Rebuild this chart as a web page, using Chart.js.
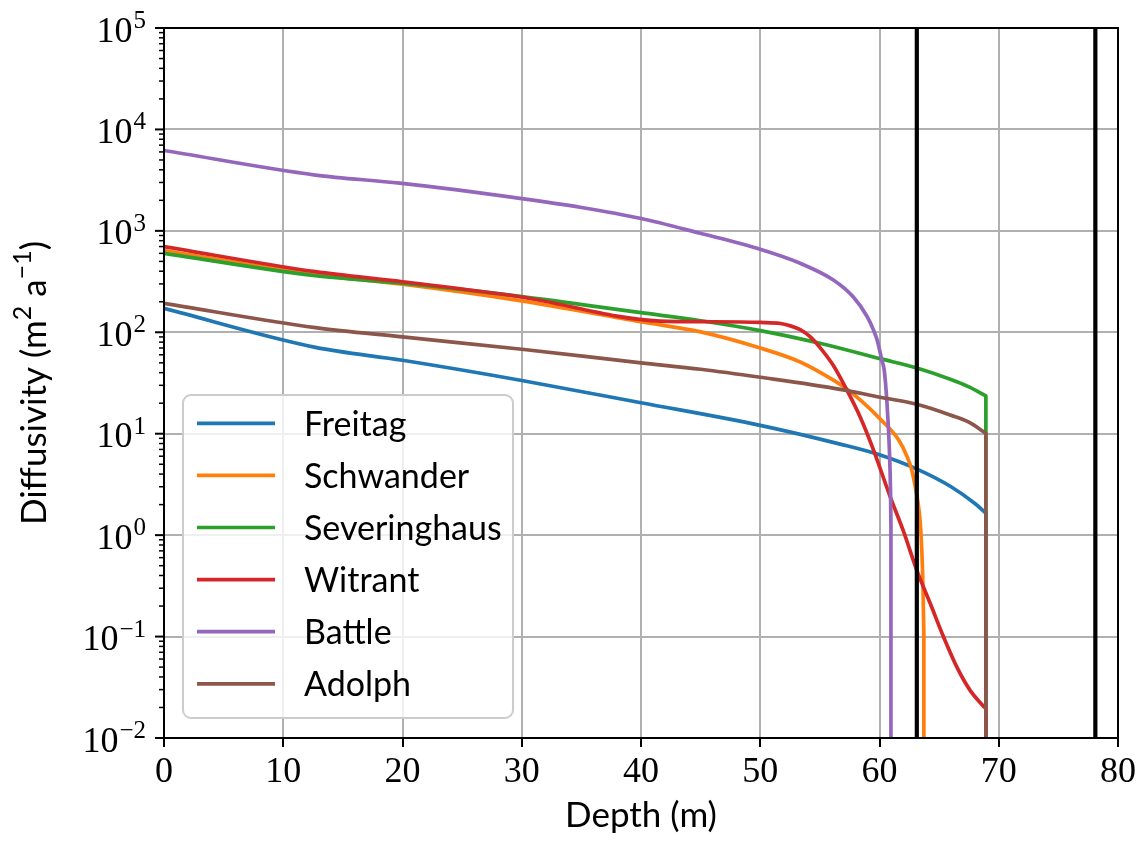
<!DOCTYPE html>
<html>
<head>
<meta charset="utf-8">
<script src="https://cdn.jsdelivr.net/npm/chart.js@4.4.1/dist/chart.umd.min.js"></script>
<style>
  html, body { margin: 0; padding: 0; background: #fff; }
  #chart { display: block; }
</style>
</head>
<body>
<canvas id="chart" width="1142" height="842"></canvas>
<script>
// firn diffusivity profiles, depth (m) vs diffusivity (m2/a)
const freitagDepth = [0, 12.7, 20, 30, 40, 50, 56.7, 60, 63.1, 66, 68, 68.92];
const freitagDiff = [172, 71, 53, 33.5, 20.2, 12.1, 7.9, 6.2, 4.5, 3.0, 2.05, 1.65];

const schwanderDepth = [0, 12.7, 20, 29.85, 40, 45, 50, 53.35, 56.1, 57, 58.5, 60.05, 61.6, 62.3, 62.7, 63.0, 63.2, 63.4, 63.55, 63.65, 63.72];
const schwanderDiff = [640, 370, 298, 205, 127, 101, 70, 51, 34, 29, 21, 14, 8.7, 6.0, 4.4, 3.0, 2.2, 1.4, 0.7, 0.3, 0.1];

const severinghausDepth = [0, 12.7, 20, 29.85, 40, 45, 50, 55, 60.05, 63.13, 65.93, 67.5, 68.92];
const severinghausDiff = [600, 361, 305, 226, 156, 130, 104, 78, 55, 44.5, 34.5, 29, 23.6];

const witrantDepth = [0, 12.7, 20, 29.85, 41.6, 46, 50, 51.7, 52.6, 53.35, 54.2, 55.0, 56.13, 57.26, 58.37, 59.5, 60.89, 62.0, 63.13, 64.25, 65.36, 66.49, 67.6, 68.72, 68.92];
const witrantDiff = [700, 396, 315, 224, 129, 127, 125, 122, 115, 106, 90, 71, 47, 27, 14.7, 6.9, 2.4, 1.1, 0.45, 0.213, 0.1, 0.05, 0.0295, 0.0206, 0.0195];

const battleDepth = [0, 12.7, 19.78, 29.85, 35, 39.92, 44.96, 49.99, 53.35, 56.13, 57.79, 58.96, 59.5, 59.8, 60.2, 60.4, 60.61, 60.83, 60.93, 60.96];
const battleDiff = [6200, 3550, 2950, 2090, 1700, 1330, 946, 658, 479, 328, 224, 143, 105, 84, 53, 42, 21.5, 6.9, 2.5, 1.2];

const adolphDepth = [0, 12.7, 20, 30, 40, 45, 50, 56.7, 60.05, 63.13, 65.93, 67.5, 68.92];
const adolphDiff = [193, 111, 90, 68, 50, 43.2, 36, 27.4, 22.9, 19.5, 15.3, 13.0, 10.1];

// close-off / bottom depths marked with black lines
const markerDepths = [63.13, 78.1];

const seriesNames = ['Freitag', 'Schwander', 'Severinghaus', 'Witrant', 'Battle', 'Adolph'];
const seriesDepths = [freitagDepth, schwanderDepth, severinghausDepth, witrantDepth, battleDepth, adolphDepth];
const seriesValues = [freitagDiff, schwanderDiff, severinghausDiff, witrantDiff, battleDiff, adolphDiff];

const xTicks = [0, 10, 20, 30, 40, 50, 60, 70, 80];
const yExponents = [-2, -1, 0, 1, 2, 3, 4, 5];

const colors = ['#1f77b4', '#ff7f0e', '#2ca02c', '#d62728', '#9467bd', '#8c564b'];
const SERIF = '"Liberation Serif", "DejaVu Serif", serif';
const SANS = 'Lato, "Open Sans", sans-serif';
const BELOW_AXIS = 1e-5;

const datasets = [];
seriesNames.forEach((name, i) => {
    const depth = seriesDepths[i];
    const vals = seriesValues[i];
    const n = depth.length - 1;
    datasets.push({
        label: name,
        data: depth.map((d, j) => ({ x: d, y: vals[j] })),
        borderColor: colors[i],
        borderWidth: 3.7,
        cubicInterpolationMode: 'monotone',
        order: seriesNames.length - i
    });
    // profile drops to zero at its last depth
    datasets.push({
        label: '',
        data: [{ x: depth[n], y: vals[n] }, { x: depth[n], y: BELOW_AXIS }],
        borderColor: colors[i],
        borderWidth: 3.7,
        order: seriesNames.length - i
    });
});

markerDepths.forEach(d => {
    datasets.push({
        label: '',
        data: [{ x: d, y: BELOW_AXIS }, { x: d, y: 1e6 }],
        borderColor: '#000',
        borderWidth: 4.2,
        order: 0
    });
});

// superscripted powers of ten, spines, log minor ticks and legend
const decorations = {
    id: 'decorations',
    afterDatasetsDraw(chart) {
        const ctx = chart.ctx;
        const area = chart.chartArea;
        const y = chart.scales.y;
        ctx.save();

        // spines
        ctx.strokeStyle = '#000';
        ctx.lineWidth = 2;
        ctx.strokeRect(area.left, area.top, area.right - area.left, area.bottom - area.top);

        // y ticks, major and minor
        yExponents.forEach(e => {
            const py = y.getPixelForValue(Math.pow(10, e));
            ctx.lineWidth = 2;
            ctx.beginPath();
            ctx.moveTo(area.left - 9, py);
            ctx.lineTo(area.left, py);
            ctx.stroke();
            if (e < 5) {
                ctx.lineWidth = 1.5;
                for (let k = 2; k < 10; k++) {
                    const pm = y.getPixelForValue(k * Math.pow(10, e));
                    ctx.beginPath();
                    ctx.moveTo(area.left - 5, pm);
                    ctx.lineTo(area.left, pm);
                    ctx.stroke();
                }
            }

            // tick label 10^e
            const exp = e < 0 ? '\u2212' + Math.abs(e) : String(e);
            ctx.fillStyle = '#000';
            ctx.textBaseline = 'alphabetic';
            ctx.textAlign = 'right';
            ctx.font = '25px ' + SERIF;
            const right = area.left - 18;
            const expWidth = ctx.measureText(exp).width;
            ctx.fillText(exp, right, py);
            ctx.font = '36px ' + SERIF;
            ctx.fillText('10', right - expWidth - 1, py + 13.5);
        });

        // y axis title
        ctx.save();
        ctx.translate(46, (area.top + area.bottom) / 2);
        ctx.rotate(-Math.PI / 2);
        const parts = [
            ['Diffusivity (m', 35, 0],
            ['2', 25, -15],
            [' a', 35, 0],
            ['\u22121', 25, -15],
            [')', 35, 0]
        ];
        let total = 0;
        parts.forEach(p => { ctx.font = p[1] + 'px ' + SANS; total += ctx.measureText(p[0]).width; });
        let cx = -total / 2;
        ctx.textAlign = 'left';
        parts.forEach(p => {
            ctx.font = p[1] + 'px ' + SANS;
            ctx.fillText(p[0], cx, p[2]);
            cx += ctx.measureText(p[0]).width;
        });
        ctx.restore();

        // x axis title
        ctx.font = '35px ' + SANS;
        ctx.textAlign = 'center';
        ctx.fillText('Depth (m)', (area.left + area.right) / 2, 827);

        // legend
        const box = { x: 183, y: 395, w: 330, h: 323 };
        ctx.beginPath();
        ctx.roundRect(box.x, box.y, box.w, box.h, 8);
        ctx.fillStyle = 'rgba(255,255,255,0.8)';
        ctx.fill();
        ctx.strokeStyle = '#cccccc';
        ctx.lineWidth = 2;
        ctx.stroke();
        seriesNames.forEach((name, i) => {
            const ry = 423.3 + i * 52.1;
            ctx.strokeStyle = colors[i];
            ctx.lineWidth = 3.7;
            ctx.beginPath();
            ctx.moveTo(197, ry);
            ctx.lineTo(275, ry);
            ctx.stroke();
            ctx.fillStyle = '#000';
            ctx.font = '34px ' + SANS;
            ctx.textAlign = 'left';
            ctx.fillText(name, 304, ry + 12.5);
        });

        ctx.restore();
    }
};

new Chart(document.getElementById('chart'), {
    type: 'line',
    data: { datasets },
    options: {
        responsive: false,
        animation: false,
        devicePixelRatio: 1,
        layout: { padding: { top: 28, right: 24, left: 0, bottom: 0 } },
        elements: {
            point: { radius: 0 },
            line: { tension: 0, borderJoinStyle: 'round', borderCapStyle: 'butt' }
        },
        plugins: {
            legend: { display: false },
            tooltip: { enabled: false }
        },
        scales: {
            x: {
                type: 'linear',
                min: 0,
                max: 80,
                afterBuildTicks: s => { s.ticks = xTicks.map(v => ({ value: v })); },
                ticks: {
                    color: '#000',
                    font: { family: SERIF, size: 36 },
                    padding: 4,
                    maxRotation: 0
                },
                grid: { color: '#b0b0b0', lineWidth: 2, tickColor: '#000', tickLength: 9, tickWidth: 2 },
                border: { color: '#000', width: 2 },
                afterFit: s => { s.height = 104; }
            },
            y: {
                type: 'logarithmic',
                min: 1e-2,
                max: 1e5,
                afterBuildTicks: s => { s.ticks = yExponents.map(e => ({ value: Math.pow(10, e), major: true })); },
                ticks: { display: false },
                grid: { color: '#b0b0b0', lineWidth: 2, drawTicks: false },
                border: { color: '#000', width: 2 },
                afterFit: s => { s.width = 164; }
            }
        }
    },
    plugins: [decorations]
});
</script>
</body>
</html>
